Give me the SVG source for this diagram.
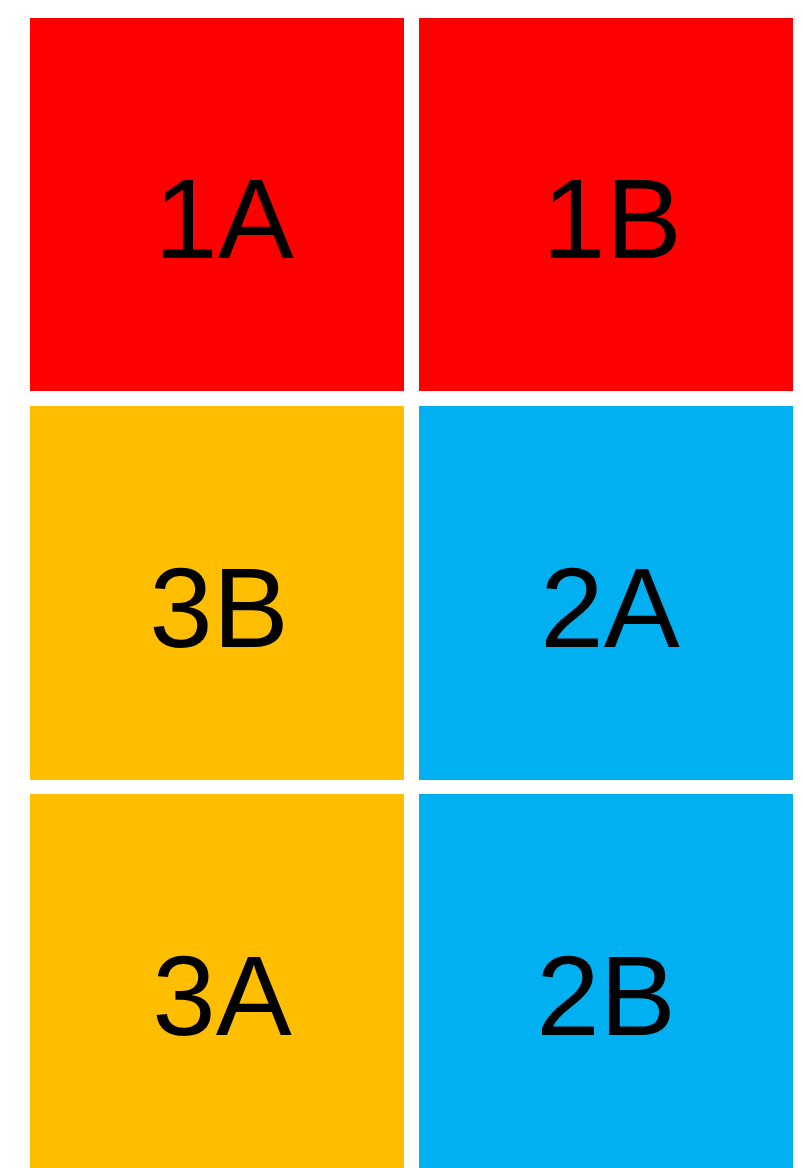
<svg xmlns="http://www.w3.org/2000/svg" width="804" height="1168" viewBox="0 0 804 1168">
<style>
.lbl{font-family:"Liberation Sans",Arial,sans-serif;font-size:114px;fill:#000;text-anchor:middle}
.red{fill:#ff0000}.yel{fill:#ffbf00}.blu{fill:#00b0f0}
</style>
<rect width="804" height="1168" fill="#fff"/>
<g id="n1A"><rect class="red" x="30" y="18" width="374" height="373"/><text class="lbl" x="224" y="258">1A</text></g>
<g id="n1B"><rect class="red" x="419" y="18" width="374" height="373"/><text class="lbl" x="612" y="258">1B</text></g>
<g id="n3B"><rect class="yel" x="30" y="406" width="374" height="374"/><text class="lbl" x="219" y="647">3B</text></g>
<g id="n2A"><rect class="blu" x="419" y="406" width="374" height="374"/><text class="lbl" x="610" y="647">2A</text></g>
<g id="n3A"><rect class="yel" x="30" y="794" width="374" height="374"/><text class="lbl" x="222" y="1035">3A</text></g>
<g id="n2B"><rect class="blu" x="419" y="794" width="374" height="374"/><text class="lbl" x="606" y="1035">2B</text></g>
<g id="connectors"></g>
</svg>
